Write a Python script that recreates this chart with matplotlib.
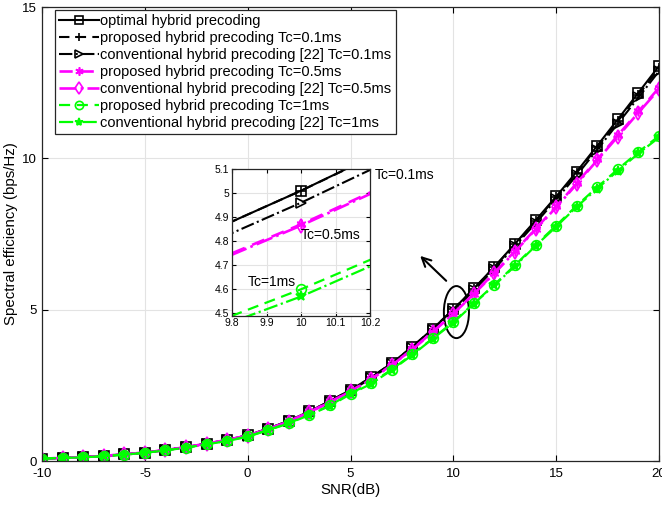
import matplotlib
matplotlib.use('Agg')
import matplotlib.pyplot as plt
from matplotlib.patches import Ellipse
import numpy as np

plt.rcParams['font.family'] = ['Liberation Sans', 'DejaVu Sans']
plt.rcParams['axes.unicode_minus'] = False

# SNR axis (dB)
snr = list(range(-10, 21))

# spectral efficiency (bps/Hz)
optimal = [0.08, 0.10, 0.13, 0.17, 0.22, 0.28, 0.36, 0.46, 0.57, 0.70,
           0.85, 1.07, 1.33, 1.64, 1.98, 2.35, 2.76, 3.23, 3.77, 4.37,
           5.01, 5.70, 6.42, 7.18, 7.95, 8.74, 9.56, 10.42, 11.29, 12.17, 13.05]
prop_01 = [0.08, 0.10, 0.13, 0.17, 0.22, 0.28, 0.36, 0.46, 0.57, 0.70,
           0.85, 1.07, 1.33, 1.64, 1.98, 2.35, 2.76, 3.23, 3.77, 4.37,
           5.01, 5.69, 6.41, 7.16, 7.93, 8.71, 9.52, 10.37, 11.23, 12.10, 12.97]
conv_01 = [0.08, 0.10, 0.13, 0.17, 0.22, 0.28, 0.36, 0.46, 0.57, 0.69,
           0.84, 1.06, 1.31, 1.62, 1.96, 2.32, 2.73, 3.19, 3.73, 4.33,
           4.96, 5.64, 6.35, 7.10, 7.86, 8.64, 9.44, 10.29, 11.15, 12.01, 12.88]
prop_05 = [0.08, 0.10, 0.13, 0.17, 0.22, 0.28, 0.36, 0.46, 0.57, 0.70,
           0.84, 1.06, 1.31, 1.62, 1.95, 2.31, 2.71, 3.17, 3.69, 4.27,
           4.87, 5.53, 6.22, 6.94, 7.67, 8.41, 9.18, 9.97, 10.76, 11.55, 12.33]
conv_05 = [0.08, 0.10, 0.13, 0.17, 0.22, 0.28, 0.36, 0.46, 0.57, 0.69,
           0.84, 1.05, 1.30, 1.61, 1.94, 2.30, 2.70, 3.16, 3.68, 4.26,
           4.865, 5.52, 6.20, 6.92, 7.65, 8.38, 9.15, 9.94, 10.72, 11.51, 12.28]
prop_1 = [0.08, 0.10, 0.12, 0.16, 0.21, 0.27, 0.35, 0.44, 0.55, 0.67,
          0.81, 1.03, 1.25, 1.53, 1.84, 2.23, 2.58, 3.02, 3.53, 4.05,
          4.60, 5.21, 5.83, 6.47, 7.14, 7.78, 8.44, 9.05, 9.64, 10.21, 10.74]
conv_1 = [0.08, 0.10, 0.12, 0.16, 0.21, 0.27, 0.35, 0.44, 0.55, 0.66,
          0.80, 1.02, 1.24, 1.52, 1.82, 2.21, 2.55, 3.00, 3.50, 4.04,
          4.57, 5.195, 5.81, 6.44, 7.11, 7.74, 8.40, 9.00, 9.59, 10.16, 10.69]

labels = ['optimal hybrid precoding',
          'proposed hybrid precoding Tc=0.1ms',
          'conventional hybrid precoding [22] Tc=0.1ms',
          'proposed hybrid precoding Tc=0.5ms',
          'conventional hybrid precoding [22] Tc=0.5ms',
          'proposed hybrid precoding Tc=1ms',
          'conventional hybrid precoding [22] Tc=1ms']

asterisk = (6, 2, 0)
series = [
    (optimal, 'k', '-', 's', 1.5),
    (prop_01, 'k', (0, (5, 3)), '+', 1.5),
    (conv_01, 'k', '-.', '>', 1.5),
    (prop_05, '#ff00ff', (0, (5, 3)), asterisk, 1.9),
    (conv_05, '#ff00ff', '-.', 'd', 1.9),
    (prop_1, '#00ff00', (0, (5, 3)), 'o', 1.6),
    (conv_1, '#00ff00', '-.', '*', 1.6),
]


def draw_series(ax, ms, with_labels):
    for (vals, col, ls, mk, lw), lab in zip(series, labels):
        solid = mk in ('+', asterisk, '*')
        ax.plot(snr, vals, color=col, linestyle=ls, linewidth=lw,
                marker=mk, markersize=ms,
                markerfacecolor=col if solid else 'none',
                markeredgecolor=col, markeredgewidth=1.2,
                label=lab if with_labels else None)


def style_axes(ax, fs):
    ax.grid(True, color='#e3e3e3', linewidth=0.8)
    ax.set_axisbelow(True)
    ax.tick_params(direction='in', top=True, right=True, labelsize=fs,
                   length=4, width=0.8)
    for sp in ax.spines.values():
        sp.set_linewidth(0.9)
        sp.set_color('#262626')


fig = plt.figure(figsize=(6.62, 5.07), dpi=100)
ax = fig.add_axes([42 / 662, 46 / 507, 617 / 662, 454 / 507])
draw_series(ax, 7, True)
ax.set_xlim(-10, 20)
ax.set_ylim(0, 15)
ax.set_xticks([-10, -5, 0, 5, 10, 15, 20])
ax.set_yticks([0, 5, 10, 15])
style_axes(ax, 9.5)
ax.tick_params(axis='x', pad=5)
ax.set_xlabel('SNR(dB)', fontsize=10.8, labelpad=2)
ax.set_ylabel('Spectral efficiency (bps/Hz)', fontsize=10.8, labelpad=3)

leg = ax.legend(loc='upper left', bbox_to_anchor=(0.021, 0.9934), borderaxespad=0,
                fontsize=10.5, handlelength=2.7, handletextpad=0.1,
                labelspacing=0.2, borderpad=0.3, fancybox=False,
                framealpha=1, edgecolor='#262626', markerscale=0.85)
leg.get_frame().set_linewidth(0.9)

# zoom marker on main axes
ax.add_patch(Ellipse((10.15, 4.92), 1.22, 1.72, fill=False, edgecolor='k', linewidth=1.4))
ax.annotate('', xy=(8.29, 6.84), xytext=(9.75, 5.89),
            arrowprops=dict(arrowstyle='->', color='k', lw=1.5, mutation_scale=16))

# inset
axin = fig.add_axes([232.3 / 662, (507 - 315.7) / 507, 137.7 / 662, 146.7 / 507])
draw_series(axin, 7, False)
axin.set_xlim(9.8, 10.2)
axin.set_ylim(4.49, 5.1)
axin.set_xticks([9.8, 9.9, 10, 10.1, 10.2])
axin.set_xticklabels(['9.8', '9.9', '10', '10.1', '10.2'])
axin.set_yticks([4.5, 4.6, 4.7, 4.8, 4.9, 5.0, 5.1])
axin.set_yticklabels(['4.5', '4.6', '4.7', '4.8', '4.9', '5', '5.1'])
style_axes(axin, 7.5)
axin.tick_params(pad=2, length=3)
axin.text(10.215, 5.075, 'Tc=0.1ms', fontsize=10, va='center', ha='left', clip_on=False)
axin.text(10.0, 4.826, 'Tc=0.5ms', fontsize=10, va='center', ha='left')
axin.text(9.846, 4.63, 'Tc=1ms', fontsize=10, va='center', ha='left')

fig.savefig('out.png', dpi=100)
